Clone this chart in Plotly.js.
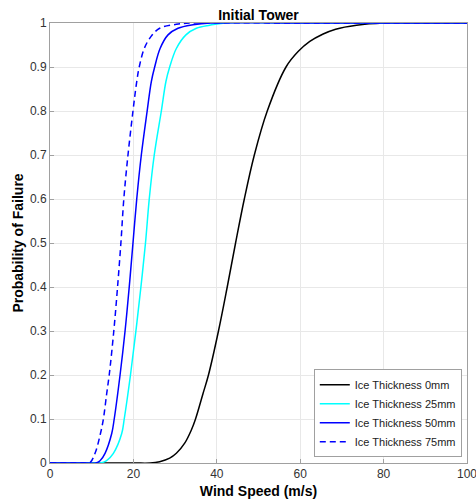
<!DOCTYPE html>
<html>
<head>
<meta charset="utf-8">
<script src="https://cdn.plot.ly/plotly-3.0.1.min.js"></script>
<style>
html,body{margin:0;padding:0;background:#fff;}
#chart{width:476px;height:502px;}
</style>
</head>
<body>
<div id="chart"></div>
<script>
// Wind speed (m/s) and probability of failure
const names = ["Ice Thickness 0mm", "Ice Thickness 25mm", "Ice Thickness 50mm", "Ice Thickness 75mm"];

const x0mm  = [0, 20, 24, 26.3, 28.7, 30.3, 32.3, 33.9, 34.9, 36.7, 38.0, 40.4, 42.5, 44.5, 46.6, 49.0, 52.1, 56.6, 59.5, 62.3, 65.5, 68.5, 73.5, 80, 90, 100];
const p0mm  = [0, 0, 0, 0.003, 0.011, 0.022, 0.045, 0.075, 0.1, 0.158, 0.2, 0.3, 0.4, 0.5, 0.6, 0.7, 0.8, 0.9, 0.935, 0.958, 0.975, 0.986, 0.995, 1, 1, 1];

const x25mm = [0, 10, 12, 13.5, 15.2, 17.2, 17.8, 19.3, 20.6, 21.8, 22.9, 23.8, 25.0, 26.7, 27.8, 28.7, 30.3, 32.6, 35.1, 38.3, 42, 60, 100];
const p25mm = [0, 0, 0, 0.005, 0.022, 0.067, 0.1, 0.2, 0.3, 0.4, 0.5, 0.6, 0.7, 0.8, 0.867, 0.9, 0.942, 0.973, 0.988, 0.995, 1, 1, 1];

const x50mm = [0, 9, 11, 12, 13.2, 14.8, 15.4, 16.8, 18.0, 19.0, 19.9, 20.8, 21.9, 23.3, 24.3, 25.1, 26.4, 28.3, 30.7, 34.3, 38.5, 60, 100];
const p50mm = [0, 0, 0, 0.005, 0.022, 0.067, 0.1, 0.2, 0.3, 0.4, 0.5, 0.6, 0.7, 0.8, 0.867, 0.9, 0.942, 0.973, 0.988, 0.996, 1, 1, 1];

const x75mm = [0, 8, 9.5, 10.8, 12.1, 12.8, 13.6, 14.2, 15.3, 16.2, 17.0, 17.7, 18.7, 19.9, 20.8, 21.4, 22.6, 24.2, 26.3, 30.3, 34, 60, 100];
const p75mm = [0, 0, 0, 0.022, 0.067, 0.1, 0.158, 0.2, 0.3, 0.4, 0.5, 0.6, 0.7, 0.8, 0.867, 0.9, 0.942, 0.969, 0.988, 0.997, 1, 1, 1];

const xTicks = [0, 20, 40, 60, 80, 100];
const yTicks = [0, 0.1, 0.2, 0.3, 0.4, 0.5, 0.6, 0.7, 0.8, 0.9, 1];
const yTickText = ["0", "0.1", "0.2", "0.3", "0.4", "0.5", "0.6", "0.7", "0.8", "0.9", "1"];

const lineCommon = {shape: "spline", smoothing: 1, width: 1.5};

const traces = [
  {x: x0mm,  y: p0mm,  name: names[0], mode: "lines", line: Object.assign({}, lineCommon, {color: "#000000"})},
  {x: x25mm, y: p25mm, name: names[1], mode: "lines", line: Object.assign({}, lineCommon, {color: "#00ffff"})},
  {x: x50mm, y: p50mm, name: names[2], mode: "lines", line: Object.assign({}, lineCommon, {color: "#0000ff"})},
  {x: x75mm, y: p75mm, name: names[3], mode: "lines", line: Object.assign({}, lineCommon, {color: "#0000ff", dash: "6px,4px"})}
];

const FONT = "Liberation Sans, Arial, sans-serif";

const axisCommon = {
  showgrid: true, gridcolor: "#e8e8e8", gridwidth: 1,
  showline: true, linecolor: "#a0a0a0", linewidth: 1, mirror: true,
  ticks: "inside", ticklen: 4, tickcolor: "#a0a0a0",
  zeroline: false, ticklabeloverflow: "allow",
  tickfont: {family: FONT, size: 12, color: "#333333"}
};

const layout = {
  width: 476, height: 502,
  margin: {l: 50, r: 9, t: 23, b: 39, pad: 0},
  paper_bgcolor: "#ffffff", plot_bgcolor: "#ffffff",
  font: {family: FONT},
  title: {
    text: "<b>Initial Tower</b>",
    font: {family: FONT, size: 14, color: "#000000"},
    x: 0.5, xref: "paper", xanchor: "center",
    y: 1, yref: "paper", yanchor: "bottom", pad: {b: 3}
  },
  xaxis: Object.assign({}, axisCommon, {
    range: [0, 100], tickvals: xTicks, ticktext: xTicks.map(String),
    title: {text: "<b>Wind Speed (m/s)</b>", standoff: 5,
            font: {family: FONT, size: 14, color: "#000000"}}
  }),
  yaxis: Object.assign({}, axisCommon, {
    range: [0, 1], tickvals: yTicks, ticktext: yTickText,
    title: {text: "<b>Probability of Failure</b>", standoff: 3,
            font: {family: FONT, size: 14, color: "#000000"}}
  }),
  showlegend: true,
  legend: {
    x: 0.9875, y: 0.013, xanchor: "right", yanchor: "bottom",
    bgcolor: "#ffffff", bordercolor: "#a0a0a0", borderwidth: 1,
    font: {family: FONT, size: 11, color: "#222222"},
    itemwidth: 30, tracegroupgap: 0
  }
};

Plotly.newPlot("chart", traces, layout, {displayModeBar: false, staticPlot: true});
</script>
</body>
</html>
